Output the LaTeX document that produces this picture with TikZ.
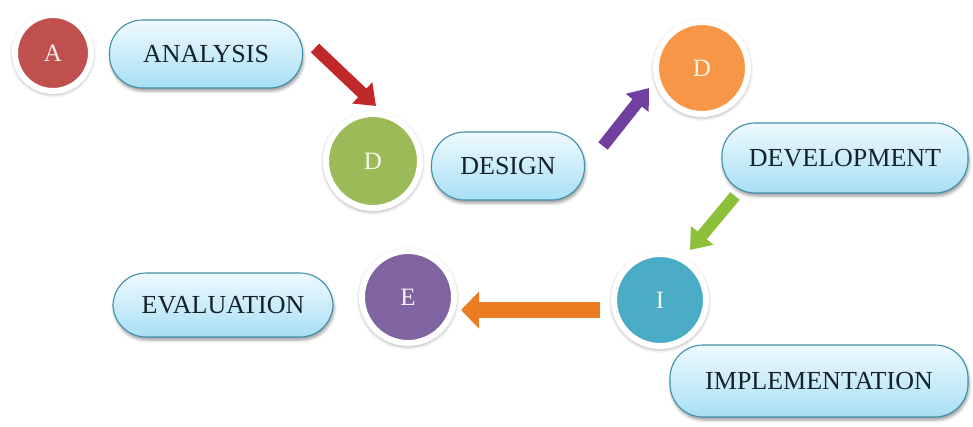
\documentclass[tikz,border=0pt]{standalone}
\usepackage{fontspec}
\setmainfont{Liberation Serif}
\usetikzlibrary{shadows.blur,arrows.meta}

\definecolor{cRed}{HTML}{C0504D}
\definecolor{cGreen}{HTML}{9BBB59}
\definecolor{cOrange}{HTML}{F79646}
\definecolor{cTeal}{HTML}{4BACC6}
\definecolor{cPurple}{HTML}{8064A2}
\definecolor{pillTop}{HTML}{EEFAFE}
\definecolor{pillBot}{HTML}{A8DFF4}
\definecolor{pillEdge}{HTML}{3F8FA8}
\definecolor{textDark}{HTML}{15222B}
\definecolor{aRed}{HTML}{C0282A}
\definecolor{aPurple}{HTML}{7040A0}
\definecolor{aGreen}{HTML}{8CBF3A}
\definecolor{aOrange}{HTML}{EB7C22}

\begin{document}
\begin{tikzpicture}[x=1pt,y=-1pt,
  phase/.style={circle, fill=#1, draw=white, line width=6pt,
    text=white!90!#1, font=\fontsize{25}{25}\selectfont,
    blur shadow={shadow xshift=0pt, shadow yshift=-1.5pt,
      shadow scale=1.03, shadow blur radius=4pt, shadow opacity=45}},
  pill/.style={rounded corners=33pt, draw=pillEdge, line width=1.1pt,
    top color=pillTop, bottom color=pillBot, inner sep=0pt,
    text=textDark, font=\fontsize{26}{26}\selectfont,
    blur shadow={shadow xshift=1pt, shadow yshift=-3pt,
      shadow blur radius=3pt, shadow opacity=40}},
  flow/.style={line width=12pt, draw=#1,
    -{Triangle[width=28pt,length=19pt]}}
]
\useasboundingbox (0,0) rectangle (973,426);

% stage circles
\node[phase=cRed,    minimum size=76pt] (cA) at (53,53)   {A};
\node[phase=cGreen,  minimum size=94pt] (cD) at (373,161) {D};
\node[phase=cOrange, minimum size=92pt] (cV) at (702,68)  {D};
\node[phase=cTeal,   minimum size=92pt] (cI) at (660,300) {I};
\node[phase=cPurple, minimum size=92pt] (cE) at (408,297) {E};

% stage names
\node[pill, minimum width=193pt, minimum height=68pt] (tA) at (206,54)  {ANALYSIS};
\node[pill, minimum width=153pt, minimum height=68pt] (tD) at (508,166) {DESIGN};
\node[pill, minimum width=246pt, minimum height=70pt] (tV) at (845,158) {DEVELOPMENT};
\node[pill, minimum width=298pt, minimum height=72pt] (tI) at (819,381) {IMPLEMENTATION};
\node[pill, minimum width=220pt, minimum height=64pt] (tE) at (223,305) {EVALUATION};

% arrow end points
\coordinate (r1) at (315,48);
\coordinate (r2) at (376,106);
\coordinate (p1) at (603,146);
\coordinate (p2) at (649,88);
\coordinate (g1) at (735,196);
\coordinate (g2) at (690,250);
\coordinate (o1) at (600,310);
\coordinate (o2) at (461,310);

\draw[flow=aRed]    (r1) -- (r2);
\draw[flow=aPurple] (p1) -- (p2);
\draw[flow=aGreen]  (g1) -- (g2);
\draw[flow=aOrange, line width=16pt, -{Triangle[width=36pt,length=18pt]}] (o1) -- (o2);
\end{tikzpicture}
\end{document}
